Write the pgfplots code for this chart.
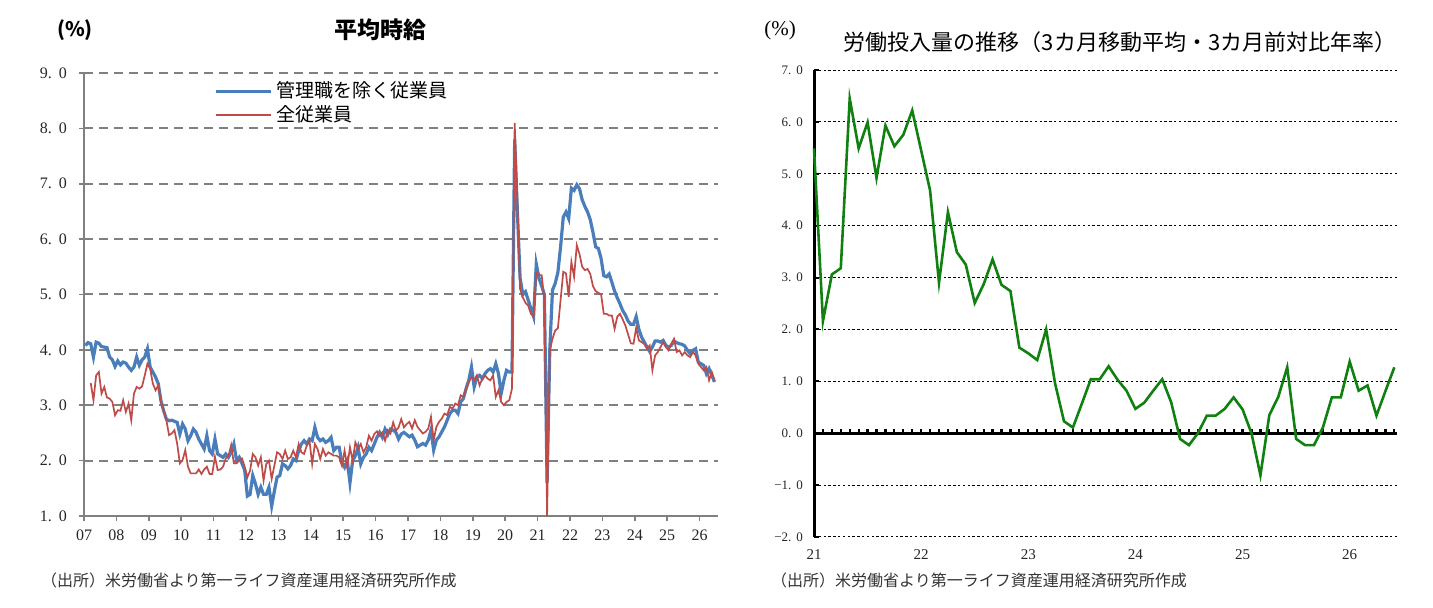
\documentclass[border=0pt]{standalone}
\usepackage{fontspec}
\setmainfont{Liberation Serif}
\newfontfamily\jp{Noto Sans CJK JP}
\usepackage{pgfplots}
\usepackage{pgfplotstable}
\pgfplotsset{compat=1.18}
\definecolor{wblue}{RGB}{74,126,187}
\definecolor{wred}{RGB}{190,75,72}
\definecolor{wgreen}{RGB}{16,128,16}
\definecolor{gridgray}{RGB}{128,128,128}

\pgfplotstableread{
b r
4.08 nan
4.13 nan
4.11 3.40
3.87 3.09
4.14 3.54
4.12 3.60
4.06 3.21
4.05 3.33
4.04 3.14
3.87 3.12
3.82 3.06
3.70 2.82
3.80 2.91
3.73 2.90
3.78 3.09
3.76 2.88
3.69 3.03
3.63 2.73
3.69 3.21
3.87 3.33
3.72 3.30
3.82 3.34
3.87 3.54
4.02 3.75
3.69 3.66
3.60 3.39
3.51 3.27
3.39 3.36
3.08 3.06
2.90 2.91
2.75 2.73
2.72 2.46
2.73 2.49
2.71 2.55
2.69 2.31
2.48 1.95
2.66 2.01
2.57 2.19
2.36 1.89
2.45 1.77
2.57 1.77
2.51 1.77
2.39 1.84
2.30 1.76
2.21 1.84
2.45 1.89
2.18 1.76
2.12 1.76
2.39 2.07
2.12 1.83
2.09 1.84
2.06 1.89
2.12 2.04
2.06 2.08
2.15 2.28
2.30 1.95
2.00 1.95
2.06 2.01
1.95 2.04
1.83 1.89
1.36 1.70
1.39 1.82
1.73 2.12
1.58 2.06
1.39 1.91
1.52 2.06
1.39 1.64
1.39 1.94
1.52 2.00
1.18 1.67
1.45 1.91
1.70 2.15
1.73 2.12
1.94 2.03
1.91 2.18
1.85 2.03
1.91 2.06
2.03 2.18
2.00 2.06
2.18 2.30
2.30 2.15
2.36 2.12
2.30 2.27
2.39 2.36
2.36 1.94
2.60 2.30
2.42 2.21
2.36 2.03
2.39 2.21
2.33 2.09
2.36 2.15
2.42 2.12
2.18 2.09
2.24 2.09
2.24 2.06
1.97 1.91
1.88 2.18
2.00 1.88
1.60 2.24
2.00 2.00
2.09 2.33
2.24 2.21
1.94 2.30
2.06 2.15
2.12 2.24
2.24 2.45
2.18 2.36
2.30 2.48
2.42 2.53
2.51 2.45
2.42 2.51
2.57 2.36
2.47 2.55
2.57 2.49
2.55 2.69
2.51 2.54
2.39 2.60
2.48 2.75
2.51 2.60
2.47 2.66
2.43 2.70
2.46 2.58
2.37 2.73
2.25 2.61
2.28 2.55
2.31 2.49
2.28 2.52
2.37 2.58
2.55 2.79
2.19 2.37
2.37 2.61
2.43 2.70
2.52 2.76
2.61 2.85
2.73 2.82
2.85 2.97
2.91 2.94
2.91 3.03
2.85 3.00
3.06 3.18
3.12 3.15
3.30 3.30
3.45 3.42
3.69 3.51
3.33 3.45
3.51 3.54
3.54 3.36
3.48 3.48
3.57 3.54
3.63 3.48
3.66 3.45
3.60 3.54
3.75 3.15
3.57 3.27
3.21 3.06
3.45 3.00
3.63 3.06
3.60 3.09
3.60 3.30
7.80 8.10
6.50 6.67
5.30 5.10
5.00 4.95
5.05 4.85
4.90 4.80
4.75 4.65
4.60 4.60
5.55 5.40
5.30 5.35
5.15 5.35
5.00 4.90
1.60 1.00
4.00 3.99
5.08 4.20
5.20 4.35
5.40 4.39
5.86 4.90
6.40 5.41
6.49 5.38
6.37 4.96
6.92 5.59
6.88 5.32
6.98 5.89
6.91 5.73
6.71 5.50
6.59 5.44
6.49 5.46
6.35 5.37
6.12 5.15
5.86 5.06
5.83 5.03
5.65 5.00
5.34 4.65
5.32 4.65
5.37 4.62
5.22 4.62
5.06 4.38
4.94 4.60
4.83 4.65
4.71 4.55
4.63 4.44
4.52 4.28
4.46 4.12
4.46 4.11
4.60 4.40
4.37 4.17
4.23 4.14
4.14 4.11
4.05 4.02
3.97 4.08
4.05 3.63
4.16 3.90
4.16 3.96
4.14 4.05
4.17 4.14
4.08 4.05
4.05 3.99
4.08 4.11
4.16 4.20
4.13 3.96
4.11 3.99
4.10 3.90
4.07 3.96
3.99 3.90
3.93 3.87
3.99 3.96
4.02 3.90
3.78 3.75
3.75 3.69
3.72 3.63
3.57 3.69
3.66 3.45
3.54 3.60
3.42 3.45
}\wagedata

\pgfplotstableread{
v
5.49
2.16
3.06
3.18
6.45
5.49
5.99
4.92
5.93
5.53
5.75
6.22
5.45
4.68
2.90
4.26
3.49
3.25
2.51
2.87
3.35
2.86
2.74
1.65
1.54
1.41
2.00
0.96
0.23
0.11
0.57
1.04
1.04
1.29
1.03
0.82
0.47
0.59
0.82
1.04
0.60
-0.11
-0.23
0.00
0.34
0.34
0.47
0.69
0.46
0.00
-0.81
0.35
0.70
1.27
-0.11
-0.23
-0.23
0.11
0.69
0.69
1.38
0.82
0.92
0.34
0.81
1.27
}\labordata

\begin{document}
\begin{tikzpicture}[x=1pt,y=1pt]
\useasboundingbox (0pt,0pt) rectangle (716.5pt,304pt);

% ---------------- left panel ----------------
\begin{axis}[
  at={(42pt,46pt)}, anchor=south west, scale only axis,
  width=317pt, height=221.5pt,
  xmin=0, xmax=234.8, ymin=1, ymax=9,
  axis x line*=bottom, axis y line*=left,
  axis line style={-, gridgray, line width=0.8pt},
  xtick={0,12,...,228},
  xticklabels={07,08,09,10,11,12,13,14,15,16,17,18,19,20,21,22,23,24,25,26},
  ytick={1,...,9},
  yticklabels={1.\hspace{3.5pt}0,2.\hspace{3.5pt}0,3.\hspace{3.5pt}0,4.\hspace{3.5pt}0,5.\hspace{3.5pt}0,6.\hspace{3.5pt}0,7.\hspace{3.5pt}0,8.\hspace{3.5pt}0,9.\hspace{3.5pt}0},
  tick align=outside, major tick length=2.5pt,
  tick style={gridgray, line width=0.8pt},
  tick label style={font=\fontsize{8}{9}\selectfont, text=black!85},
  yticklabel style={xshift=-2.5pt},
  xticklabel style={yshift=-1pt},
  ymajorgrids,
  grid style={gridgray, line width=1pt, dash pattern=on 4.5pt off 3pt},
  legend style={at={(rel axis cs:0.205,0.99)}, anchor=north west, draw=none, fill=none,
    font=\jp\fontsize{9.5}{11}\selectfont, row sep=-1.5pt, inner sep=0pt},
  legend cell align=left,
  clip=false,
]
\addplot[wblue, line width=1.6pt, forget plot] table[x expr=\coordindex+0.5, y=b] {\wagedata};
\addplot[wred, line width=0.85pt, forget plot] table[x expr=\coordindex+0.5, y=r] {\wagedata};
\addlegendimage{legend image code/.code={\draw[wblue, line width=1.6pt] (0pt,0pt) -- (27.5pt,0pt);}}
\addlegendentry{管理職を除く従業員}
\addlegendimage{legend image code/.code={\draw[wred, line width=1.1pt] (0pt,0pt) -- (27.5pt,0pt);}}
\addlegendentry{全従業員}
\end{axis}

% ---------------- right panel ----------------
\begin{axis}[
  at={(407pt,35.5pt)}, anchor=south west, scale only axis,
  width=291.5pt, height=233.5pt,
  xmin=0, xmax=65.3, ymin=-2, ymax=7,
  axis x line*=bottom, axis y line*=left,
  x axis line style={draw=none},
  y axis line style={-, black, line width=1.5pt},
  xtick={0,12,...,60},
  xticklabels={21,22,23,24,25,26},
  x tick style={draw=none},
  ytick={-2,...,7},
  yticklabels={−2.\hspace{2.5pt}0,−1.\hspace{2.5pt}0,0.\hspace{2.5pt}0,1.\hspace{2.5pt}0,2.\hspace{2.5pt}0,3.\hspace{2.5pt}0,4.\hspace{2.5pt}0,5.\hspace{2.5pt}0,6.\hspace{2.5pt}0,7.\hspace{2.5pt}0},
  y tick style={black, line width=1pt},
  tick align=inside, major tick length=2.5pt,
  xticklabel style={font=\fontsize{7.5}{8}\selectfont, text=black!85, yshift=-3pt},
  yticklabel style={font=\fontsize{6.5}{7}\selectfont, text=black!85, xshift=-2pt},
  ymajorgrids,
  grid style={black, line width=0.5pt, dash pattern=on 1.2pt off 1.2pt},
  clip=false,
]
\addplot[black, line width=1.5pt, forget plot] coordinates {(0,0) (65.3,0)};
\pgfplotsinvokeforeach{0,...,65}{
  \draw[black, line width=1.1pt] (axis cs:#1,0) -- (axis cs:#1,0.09);
}
\addplot[wgreen, line width=1.3pt] table[x expr=\coordindex, y=v] {\labordata};
\end{axis}

% ---------------- texts ----------------
\node[font=\jp\bfseries\fontsize{11.5}{13}\selectfont] at (190pt,289pt) {平均時給};
\node[font=\jp\bfseries\fontsize{10}{12}\selectfont] at (37.5pt,289pt) {(\%)};
\node[font=\fontsize{10.5}{12}\selectfont] at (390pt,289pt) {(\%)};
\node[font=\jp\fontsize{11}{12}\selectfont] at (560pt,283pt) {労働投入量の推移（3カ月移動平均・3カ月前対比年率）};
\node[anchor=west, font=\jp\fontsize{8}{9}\selectfont, text=black!80] at (17pt,14pt) {（出所）米労働省より第一ライフ資産運用経済研究所作成};
\node[anchor=west, font=\jp\fontsize{8}{9}\selectfont, text=black!80] at (382pt,14pt) {（出所）米労働省より第一ライフ資産運用経済研究所作成};
\end{tikzpicture}
\end{document}
